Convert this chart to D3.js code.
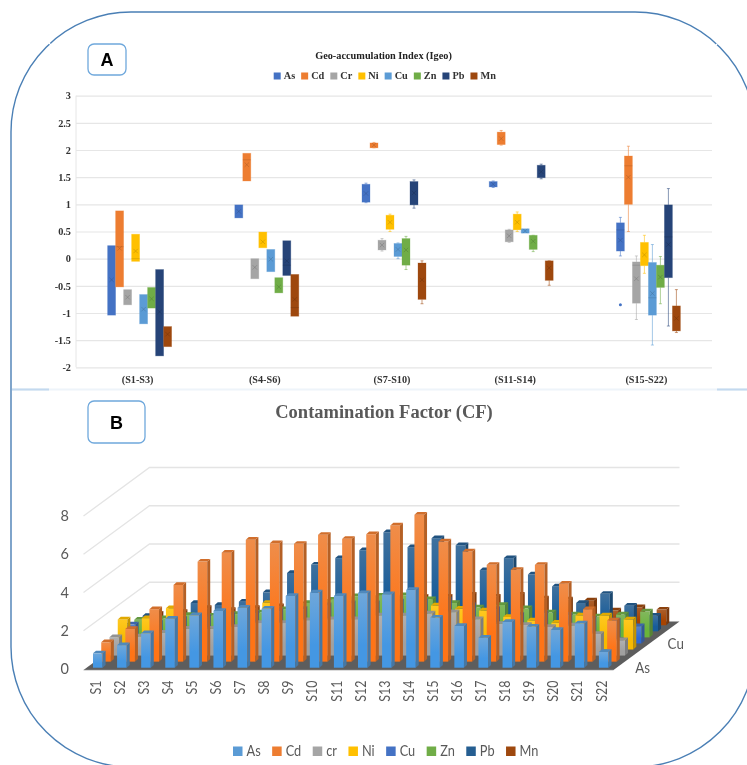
<!DOCTYPE html>
<html><head><meta charset="utf-8">
<script src="https://cdn.jsdelivr.net/npm/d3@7"></script>
<style>html,body{margin:0;padding:0;background:#fff;overflow:hidden}svg{display:block}</style>
</head><body><svg id="c" width="747" height="765"></svg>
<script>
// ---------- Panel A: Igeo box plots ----------
const groups = ["(S1-S3)","(S4-S6)","(S7-S10)","(S11-S14)","(S15-S22)"];
const metalsA = ["As","Cd","Cr","Ni","Cu","Zn","Pb","Mn"];
const colorsA = ["#4472c4","#ed7d31","#a5a5a5","#ffc000","#5b9bd5","#70ad47","#264478","#9e480e"];
const igeoTicks = [3,2.5,2,1.5,1,0.5,0,-0.5,-1,-1.5,-2];
// one row per group, one column per metal (As..Mn)
const boxTop = [
 [0.24,0.88,-0.57,0.45,-0.66,-0.53,-0.20,-1.25],
 [0.99,1.94,0.00,0.49,0.17,-0.35,0.33,-0.29],
 [1.37,2.13,0.34,0.80,0.28,0.37,1.42,-0.08],
 [1.42,2.33,0.53,0.82,0.55,0.43,1.72,-0.04],
 [0.66,1.89,-0.06,0.30,-0.07,-0.12,0.99,-0.87]];
const boxBottom = [
 [-1.04,-0.52,-0.85,-0.05,-1.20,-0.91,-1.79,-1.62],
 [0.75,1.43,-0.37,0.20,-0.24,-0.63,-0.31,-1.06],
 [1.04,2.04,0.16,0.54,0.04,-0.12,0.99,-0.75],
 [1.32,2.10,0.31,0.53,0.47,0.17,1.49,-0.40],
 [0.14,1.00,-0.82,-0.13,-1.04,-0.53,-0.35,-1.33]];
const boxMean = [
 [-0.39,0.19,-0.71,0.14,-0.93,-0.74,-0.98,-1.39],
 [0.87,1.73,-0.16,0.31,-0.01,-0.52,-0.04,-0.75],
 [1.20,2.09,0.25,0.67,0.17,0.16,1.21,-0.39],
 [1.37,2.21,0.42,0.67,0.51,0.32,1.60,-0.17],
 [0.34,1.50,-0.37,0.07,-0.64,-0.34,0.26,-1.10]];
const boxMedian = [
 [null,0.22,null,0.00,null,null,null,null],
 [null,1.82,null,null,null,null,-0.12,-0.90],
 [null,null,null,null,null,null,null,null],
 [null,null,null,null,null,null,null,null],
 [0.53,1.71,-0.12,null,-0.72,null,0.40,null]];
const whiskerHigh = [
 [null,null,null,null,null,null,null,null],
 [null,null,null,null,null,null,null,null],
 [1.39,2.14,0.37,0.82,0.29,0.41,1.45,-0.04],
 [1.43,2.36,0.54,0.86,null,0.43,1.74,-0.04],
 [0.76,2.07,0.05,0.43,0.26,0.04,1.29,-0.57]];
const whiskerLow = [
 [null,null,null,null,null,null,null,null],
 [null,null,null,null,null,null,null,null],
 [1.03,2.04,0.14,0.50,0.00,-0.20,0.93,-0.83],
 [1.31,2.09,0.30,0.50,null,0.13,1.47,-0.49],
 [0.05,0.50,-1.12,-0.27,-1.59,-0.83,-1.24,-1.36]];
const outlierGroup = 4, outlierMetal = 0, outlierValue = -0.85;

// ---------- Panel B: Contamination factor ----------
const sites = d3.range(1,23).map(i=>"S"+i);
const metalsB = ["As","Cd","cr","Ni","Cu","Zn","Pb","Mn"];
const colorsB = ["#5b9bd5","#ed7d31","#a5a5a5","#ffc000","#4472c4","#70ad47","#255e91","#9e480e"];
const cfAs = [0.75,1.18,1.80,2.56,2.74,2.97,3.14,3.09,3.75,3.93,3.75,3.90,3.84,4.07,2.62,2.18,1.57,2.39,2.15,1.97,2.32,0.82];
const cfCd = [1.01,1.71,2.74,4.01,5.23,5.70,6.37,6.19,6.16,6.63,6.42,6.66,7.12,7.68,6.28,5.76,5.06,4.80,5.06,4.07,2.74,2.15];
const cfCr = [0.96,1.00,1.20,1.40,1.40,1.50,1.70,1.70,1.85,1.90,1.90,2.10,2.10,2.20,2.27,1.90,1.66,1.60,1.50,1.57,1.13,0.80];
const cfNi = [1.57,1.64,2.16,1.75,1.95,2.10,2.44,2.20,2.20,2.20,2.20,2.20,2.20,2.30,2.13,2.04,1.70,1.52,1.40,1.78,1.78,1.57];
const cfCu = [1.00,1.10,1.30,1.40,1.50,1.60,1.70,1.80,2.00,2.10,2.10,2.20,2.20,2.30,2.00,1.80,1.50,1.60,1.50,1.30,1.20,0.90];
const cfZn = [0.92,1.00,1.17,1.13,1.22,1.30,1.48,1.80,1.97,2.15,2.18,2.20,2.00,1.80,1.57,1.70,1.52,1.30,1.20,1.10,1.20,1.35];
const cfPb = [0.80,1.10,1.48,1.38,1.55,2.04,3.05,3.49,3.83,4.24,5.18,4.40,4.87,4.50,3.20,3.83,2.97,2.35,1.48,1.96,1.34,0.82];
const cfMn = [0.60,0.70,0.90,0.80,0.90,1.00,1.10,1.20,1.30,1.40,1.40,1.50,1.50,1.60,1.50,1.60,1.40,1.35,1.30,0.77,0.94,0.82];
const cfSeries = [cfAs,cfCd,cfCr,cfNi,cfCu,cfZn,cfPb,cfMn];
const cfTicks = [0,2,4,6,8];
const depthLabels = ["As","Cu"];

// ---------- Drawing ----------
const svg = d3.select("#c");
const SERIF = "'Liberation Serif',serif", SANS = "'Liberation Sans',Arial,sans-serif", CAL = "Lato,'Open Sans',sans-serif";
const defs = svg.append("defs");
const art = svg.append("g").style("filter","blur(0.35px)");

// frame
art.append("rect").attr("x",11).attr("y",12).attr("width",744).attr("height",755).attr("rx",120)
  .attr("fill","none").attr("stroke","#4a7fb5").attr("stroke-width",1.4);
art.append("line").attr("x1",12).attr("x2",747).attr("y1",389.5).attr("y2",389.5).attr("stroke","#eef4fa").attr("stroke-width",2);
[[12,49],[717,747]].forEach(s=>art.append("line").attr("x1",s[0]).attr("x2",s[1]).attr("y1",389.5).attr("y2",389.5).attr("stroke","#c3d9ef").attr("stroke-width",2));
// hairline breaks in the frame arcs
[[48.7,42.7,51.3,45.3],[717.3,43.7,714.7,46.3]].forEach(s=>art.append("line").attr("x1",s[0]).attr("y1",s[1]).attr("x2",s[2]).attr("y2",s[3]).attr("stroke","#fff").attr("stroke-width",1.2));

function badge(x,y,w,h,t){
  art.append("rect").attr("x",x).attr("y",y).attr("width",w).attr("height",h).attr("rx",6)
    .attr("fill","#fff").attr("stroke","#6fa8dc").attr("stroke-width",1.3);
  art.append("text").attr("x",x+w/2).attr("y",y+h/2+6.5).attr("text-anchor","middle")
    .attr("font-family",SANS).attr("font-weight",700).attr("font-size",18).attr("fill","#000").text(t);
}
badge(88,44,38,31,"A"); badge(88,401,57,42,"B");

// ---- Panel A
const xA = d3.scaleBand().domain(groups).range([76,712]);
const inner = d3.scaleBand().domain(metalsA).range([xA.bandwidth()/2-32,xA.bandwidth()/2+32]);
const yA = d3.scaleLinear().domain([-2,3]).range([367.3,95.7]);
const gridA = art.append("g").attr("transform","translate(76,0)")
  .call(d3.axisLeft(yA).tickValues(igeoTicks).tickSize(-636).tickFormat(d=>String(d)).tickPadding(5));
gridA.select(".domain").attr("stroke","#e6e6e6").attr("d","M0,95.7V367.3");
gridA.selectAll(".tick line").attr("stroke","#e6e6e6").attr("stroke-width",1.2);
gridA.selectAll("text").attr("font-family",SERIF).attr("font-weight",700).attr("font-size",10.3).attr("fill","#333");
const axA = art.append("g").attr("transform","translate(0,367.3)").call(d3.axisBottom(xA).tickSize(0).tickPadding(8));
axA.select(".domain").remove();
axA.selectAll("text").attr("font-family",SERIF).attr("font-weight",700).attr("font-size",10.2).attr("fill","#333")
  .attr("dx",(d,i)=>i===3?-6:-2);

art.append("text").attr("x",383.5).attr("y",59).attr("text-anchor","middle").attr("font-family",SERIF)
  .attr("font-weight",700).attr("font-size",10.3).attr("fill","#222").text("Geo-accumulation Index (Igeo)");

groups.forEach((g,gi)=>{
  const gg = art.append("g").attr("transform",`translate(${xA(g)},0)`);
  metalsA.forEach((m,mi)=>{
    const c = colorsA[mi], w = inner.bandwidth(), x0 = inner(m), cx = x0+w/2;
    const hi = whiskerHigh[gi][mi], lo = whiskerLow[gi][mi];
    const wc = d3.color(c).copy({opacity:.55})+"";
    if(hi!=null){
      gg.append("line").attr("x1",cx).attr("x2",cx).attr("y1",yA(hi)).attr("y2",yA(boxTop[gi][mi])).attr("stroke",wc).attr("stroke-width",1);
      gg.append("line").attr("x1",cx-1.5).attr("x2",cx+1.5).attr("y1",yA(hi)).attr("y2",yA(hi)).attr("stroke",wc);
    }
    if(lo!=null){
      gg.append("line").attr("x1",cx).attr("x2",cx).attr("y1",yA(boxBottom[gi][mi])).attr("y2",yA(lo)).attr("stroke",wc).attr("stroke-width",1);
      gg.append("line").attr("x1",cx-1.5).attr("x2",cx+1.5).attr("y1",yA(lo)).attr("y2",yA(lo)).attr("stroke",wc);
    }
    gg.append("rect").attr("x",x0).attr("width",w).attr("y",yA(boxTop[gi][mi]))
      .attr("height",yA(boxBottom[gi][mi])-yA(boxTop[gi][mi])).attr("fill",c)
      .attr("stroke",d3.color(c).copy({opacity:.35})+"").attr("stroke-width",.8);
    const dark = d3.color(c).darker(1).copy({opacity:.75})+"";
    const med = boxMedian[gi][mi];
    if(med!=null) gg.append("line").attr("x1",x0).attr("x2",x0+w).attr("y1",yA(med)).attr("y2",yA(med)).attr("stroke",dark).attr("stroke-width",.5);
    const my = yA(boxMean[gi][mi]), r = 2.2;
    gg.append("path").attr("d",`M${cx-r},${my-r}L${cx+r},${my+r}M${cx-r},${my+r}L${cx+r},${my-r}`).attr("stroke",dark).attr("stroke-width",.6).attr("fill","none");
    if(gi===outlierGroup && mi===outlierMetal)
      gg.append("circle").attr("cx",cx).attr("cy",yA(outlierValue)).attr("r",1.5).attr("fill",c);
  });
});

// legend A
(function(){
  const g = art.append("g").attr("transform","translate(273.7,76)");
  let x = 0;
  metalsA.forEach((m,i)=>{
    g.append("rect").attr("x",x).attr("y",-3.5).attr("width",7).attr("height",7).attr("fill",colorsA[i]);
    const t = g.append("text").attr("x",x+10).attr("y",3.4).attr("font-family",SERIF).attr("font-weight",700)
      .attr("font-size",10.3).attr("fill","#333").text(m);
    x += 10 + t.node().getComputedTextLength() + 6;
  });
})();

// ---- Panel B
art.append("text").attr("x",384).attr("y",418).attr("text-anchor","middle").attr("font-family",SERIF)
  .attr("font-weight",700).attr("font-size",18.5).attr("fill","#595959").text("Contamination Factor (CF)");

const xB = d3.scaleBand().domain(sites).range([83.5,613.5]);
const yB = d3.scaleLinear().domain([0,8]).range([669,516]);
const depthX = d3.scaleBand().domain(metalsB).range([0,66]);
const depthY = d3.scaleBand().domain(metalsB).range([0,48.5]);
const backX = 66, backY = 48.5;

// walls: grid lines
const wall = art.append("g");
cfTicks.filter(t=>t>0).forEach(t=>{
  const y0 = yB(t);
  wall.append("path").attr("d",`M83.5,${y0}L${83.5+backX},${y0-backY}H${613.5+backX}`)
    .attr("fill","none").attr("stroke","#e4e4e4").attr("stroke-width",1.3);
});
// floor
art.append("path").attr("d",`M83.5,670L613.5,670L${613.5+backX},${670-backY}L${83.5+backX},${670-backY}Z`).attr("fill","#5d5d5d");
art.append("line").attr("x1",83.5).attr("x2",613.5).attr("y1",670.3).attr("y2",670.3).attr("stroke","#c8c8c8").attr("stroke-width",.8);

const barW = 9.6, sideX = 3, sideY = 2.7, barInset = 9.5;
metalsB.forEach((m,mi)=>{
  const grad = defs.append("linearGradient").attr("id","g"+mi).attr("x1",0).attr("x2",0).attr("y1",0).attr("y2",1);
  const c = d3.color(colorsB[mi]);
  const rich = d3.hsl(c); rich.s = Math.min(1, rich.s*1.25); rich.l *= .97;
  grad.append("stop").attr("offset","0%").attr("stop-color",d3.interpolateRgb(c,"#fff")(.12));
  grad.append("stop").attr("offset","70%").attr("stop-color",rich+"");
  grad.append("stop").attr("offset","100%").attr("stop-color",rich+"");
});
for(let mi=metalsB.length-1; mi>=0; mi--){
  const m = metalsB[mi], c = d3.color(colorsB[mi]);
  const rg = art.append("g").attr("transform",`translate(${depthX(m)},${-depthY(m)-1.3})`);
  rg.selectAll("g").data(sites).join("g").each(function(s,i){
    const v = cfSeries[mi][i], x = xB(s)+barInset, yt = yB(v), yb = yB(0), g = d3.select(this);
    g.append("rect").attr("x",x).attr("y",yt).attr("width",barW).attr("height",yb-yt).attr("fill",`url(#g${mi})`);
    g.append("path").attr("d",`M${x+barW},${yt}L${x+barW+sideX},${yt-sideY}V${yb-sideY}L${x+barW},${yb}Z`).attr("fill",c.darker(.75)+"");
    g.append("path").attr("d",`M${x},${yt}L${x+sideX},${yt-sideY}H${x+barW+sideX}L${x+barW},${yt}Z`).attr("fill",c.darker(.35)+"");
  });
}

// axes B
const axY = art.append("g").attr("transform","translate(69,0)").call(d3.axisLeft(yB).tickValues(cfTicks).tickSize(0).tickPadding(0));
axY.select(".domain").remove();
axY.selectAll("text").attr("font-family",CAL).attr("font-size",14.5).attr("fill","#595959");
const axX = art.append("g").attr("transform","translate(0,672)").call(d3.axisBottom(xB).tickSize(0));
axX.select(".domain").remove();
axX.selectAll("text").attr("font-family",CAL).attr("font-size",14.5).attr("fill","#595959")
  .attr("text-anchor","end").attr("transform","rotate(-90) scale(.86,1)").attr("x",-10).attr("y",0).attr("dy","0.35em");
depthLabels.forEach(m=>{
  art.append("text").attr("transform",`translate(${642.7+depthX(m)},${673-depthY(m)}) scale(.92,1)`).attr("text-anchor","middle")
    .attr("font-family",CAL).attr("font-size",14.5).attr("fill","#595959").text(m);
});

// legend B
(function(){
  const g = art.append("g").attr("transform","translate(233,751)");
  let x = 0;
  const squeeze = .88;
  metalsB.forEach((m,i)=>{
    g.append("rect").attr("x",x).attr("y",-4.5).attr("width",9.5).attr("height",9.5).attr("fill",colorsB[i]);
    const t = g.append("text").attr("transform",`translate(${x+13.5},5) scale(${squeeze},1)`).attr("font-family",CAL).attr("font-size",14.5).attr("fill","#595959").text(m);
    x += 13.5 + t.node().getComputedTextLength()*squeeze + 11.5;
  });
})();
</script></body></html>
